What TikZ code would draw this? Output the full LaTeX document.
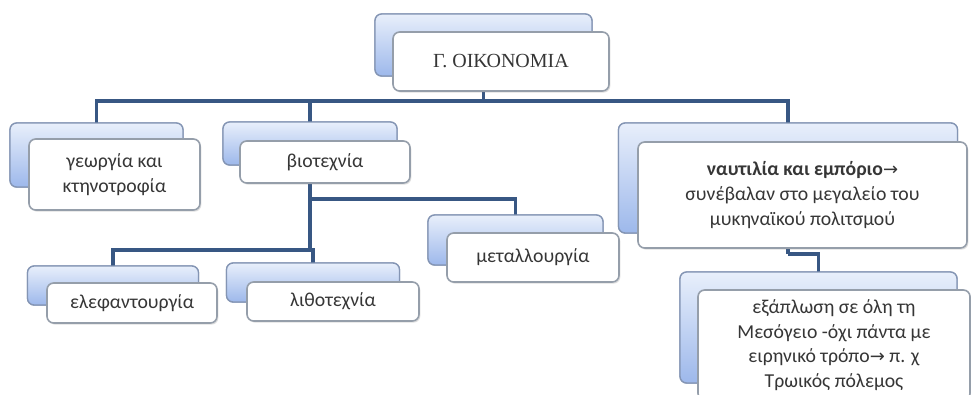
\documentclass[tikz,border=0pt]{standalone}
\usepackage{fontspec}
\setmainfont{Carlito}
\newfontfamily\serifgr{Liberation Serif}
\newfontfamily\arrowfont{DejaVu Sans}
\usetikzlibrary{shadows}
\definecolor{txt}{HTML}{363636}
\definecolor{conn}{HTML}{385783}
\definecolor{backtop}{HTML}{E8EFFB}
\definecolor{backbot}{HTML}{9DB8EB}
\definecolor{backline}{HTML}{8495B4}
\definecolor{frontline}{HTML}{959EAA}
\newcommand{\rarr}{{\arrowfont\fontsize{13.5}{16}\selectfont →}}
\tikzset{
  sz/.style 2 args={minimum width=#1*0.75pt, minimum height=#2*0.75pt},
  backbox/.style={draw=backline, line width=1pt, rounded corners=5pt,
    top color=backtop, bottom color=backbot, inner sep=0pt, outer sep=0pt},
  frontbox/.style={draw=frontline, line width=1.2pt, rounded corners=5pt,
    fill=white, inner sep=0pt, outer sep=0pt, align=center, text=txt,
    font=\fontsize{14.8}{18.5}\selectfont,
    drop shadow={shadow xshift=1pt, shadow yshift=-1.2pt, opacity=0.25}},
  link/.style={draw=conn, line width=2.5pt}
}
\begin{document}
\begin{tikzpicture}[x=0.75pt, y=-0.75pt]
\clip (0,0) rectangle (971,394);
\fill[white] (0,0) rectangle (971,394);

% back boxes (named, drawn first so connectors can refer to them)
\path node[backbox, sz={217}{62}] (topB) at (483.5,45) {}
      node[backbox, sz={173}{64}] (geoB) at (96.5,155) {}
      node[backbox, sz={174}{43}] (bioB) at (310,143.5) {}
      node[backbox, sz={339}{110}] (nauB) at (788,178) {}
      node[backbox, sz={175}{50}] (metB) at (515.5,240) {}
      node[backbox, sz={171}{39}] (eleB) at (113,285.5) {}
      node[backbox, sz={173}{39}] (litB) at (313,282.5) {}
      node[backbox, sz={277}{111}] (expB) at (818.5,327.5) {};

% connector helper points
\coordinate (busTop) at (483.5,101);
\coordinate (busBio) at (310,250);
\coordinate (busMet) at (310,199);
\coordinate (busNau) at (788,254);

% connectors
\draw[link] (topB.center) -- (busTop);
\draw[link] (busTop) -| (geoB.north);
\draw[link] (busTop) -| (bioB.north);
\draw[link] (busTop) -| (nauB.north);
\draw[link] (bioB.center) -- (busBio);
\draw[link] (busBio) -| (eleB.north);
\draw[link] (busBio) -| (litB.north);
\draw[link] (busMet) -| (metB.north);
\draw[link] (nauB.center) -- (busNau);
\draw[link] (busNau) -| (expB.north);

% redraw back boxes above connectors
\path node[backbox, sz={217}{62}] (topB2) at (topB) {}
      node[backbox, sz={173}{64}] (geoB2) at (geoB) {}
      node[backbox, sz={174}{43}] (bioB2) at (bioB) {}
      node[backbox, sz={339}{110}] (nauB2) at (nauB) {}
      node[backbox, sz={175}{50}] (metB2) at (metB) {}
      node[backbox, sz={171}{39}] (eleB2) at (eleB) {}
      node[backbox, sz={173}{39}] (litB2) at (litB) {}
      node[backbox, sz={277}{111}] (expB2) at (expB) {};

% front boxes
\node[frontbox, sz={216}{59}, font=\serifgr\fontsize{15}{18}\selectfont] (topF) at (501,61.5) {Γ. ΟΙΚΟΝΟΜΙΑ};
\node[frontbox, sz={171}{71}] (geoF) at (114.5,174.5) {γεωργία και\\κτηνοτροφία};
\node[frontbox, sz={170}{42}] (bioF) at (325,162) {βιοτεχνία};
\node[frontbox, sz={329}{106}] (nauF) at (802.5,195) {\textbf{ναυτιλία και εμπόριο}\rarr\\συνέβαλαν στο μεγαλείο του\\μυκηναϊκού πολιτσμού};
\node[frontbox, sz={172}{49}] (metF) at (533,257.5) {μεταλλουργία};
\node[frontbox, sz={170}{40}] (eleF) at (132,303) {ελεφαντουργία};
\node[frontbox, sz={172}{39}] (litF) at (333,301.5) {λιθοτεχνία};
\node[frontbox, sz={272}{110}] (expF) at (834,345) {εξάπλωση σε όλη τη\\Μεσόγειο -όχι πάντα με\\ειρηνικό τρόπο\rarr\ π. χ\\Τρωικός πόλεμος};
\end{tikzpicture}
\end{document}
